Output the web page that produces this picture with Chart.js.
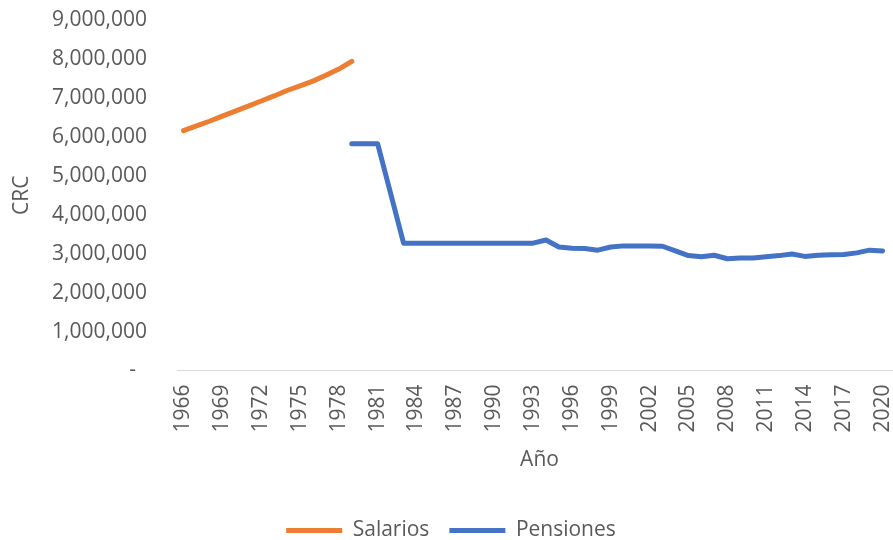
<!DOCTYPE html>
<html>
<head>
<meta charset="utf-8">
<script src="https://cdn.jsdelivr.net/npm/chart.js@4.4.1/dist/chart.umd.min.js"></script>
<style>
  html,body{margin:0;padding:0;background:#fff;overflow:hidden}
  #wrap{position:relative;width:903px;height:540px}
</style>
</head>
<body>
<div id="wrap"><canvas id="c"></canvas></div>
<script>
/* ====== DATA ====== */
const years = [];
for(let y=1966;y<=2021;y++) years.push(String(y));

// 1966-1979
const salarios = [6160000,6280000,6400000,6530000,6660000,6790000,6920000,7050000,7190000,7310000,7430000,7580000,7740000,7940000];

// 1979-2021
const pensiones = [
  5820000,5820000,5820000,4550000,3270000,3270000,3270000,3270000,3270000,3270000,
  3270000,3270000,3270000,3270000,3270000,3350000,3170000,3140000,3130000,3090000,
  3170000,3200000,3200000,3200000,3190000,3070000,2950000,2920000,2960000,2870000,
  2890000,2890000,2920000,2950000,2990000,2930000,2960000,2970000,2980000,3020000,
  3090000,3070000
];

const yTicks = [0,1000000,2000000,3000000,4000000,5000000,6000000,7000000,8000000,9000000];

/* ====== helpers ====== */
const pad = (arr, before, total)=> {
  const out = new Array(before).fill(null).concat(arr);
  while(out.length<total) out.push(null);
  return out;
};
const fmt = v => v===0 ? '-  ' : v.toLocaleString('en-US');

const GREY='#595959';
const FONT={family:'"Open Sans", "Liberation Sans", sans-serif', size:21};

new Chart(document.getElementById('c'),{
  type:'line',
  data:{
    labels:years,
    datasets:[
      {label:'Salarios', data:pad(salarios,0,years.length), borderColor:'#ED7D31', backgroundColor:'#ED7D31',
       borderWidth:5, pointRadius:0, pointStyle:'line', borderCapStyle:'round', borderJoinStyle:'round', spanGaps:false, tension:0},
      {label:'Pensiones', data:pad(pensiones,13,years.length), borderColor:'#4472C4', backgroundColor:'#4472C4',
       borderWidth:5, pointRadius:0, pointStyle:'line', borderCapStyle:'round', borderJoinStyle:'round', spanGaps:false, tension:0}
    ]
  },
  options:{
    responsive:true, maintainAspectRatio:false, animation:false,
    layout:{padding:{left:0,right:1,top:20,bottom:-11}},
    plugins:{
      tooltip:{enabled:false},
      legend:{
        position:'bottom',
        labels:{usePointStyle:true, pointStyleWidth:56, boxHeight:21, padding:20, color:GREY, font:FONT}
      }
    },
    scales:{
      x:{
        offset:true,
        afterFit:s=>{ s.height = 129.5; s.paddingLeft = 0; s.paddingRight = 0; },
        grid:{display:false, drawTicks:false},
        border:{display:true, color:'#d9d9d9', width:1},
        ticks:{autoSkip:false, minRotation:90, maxRotation:90, padding:14, color:GREY, font:FONT,
          callback:function(v,i){ return (i%3===0) ? this.getLabelForValue(v) : null; }},
        title:{display:true, text:'Año', color:GREY, font:FONT, padding:{top:10,bottom:27}}
      },
      y:{
        min:0, max:9000000,
        afterBuildTicks:s=>{ s.ticks = yTicks.map(v=>({value:v})); },
        afterFit:s=>{ s.width = 177; s.paddingTop = 0; s.paddingBottom = 0; },
        grid:{display:false, drawTicks:false},
        border:{display:false},
        ticks:{padding:30, color:GREY, font:FONT, callback:v=>fmt(v)},
        title:{display:true, text:'CRC', color:GREY, font:FONT, padding:{top:9,bottom:0}}
      }
    }
  }
});
</script>
</body>
</html>
